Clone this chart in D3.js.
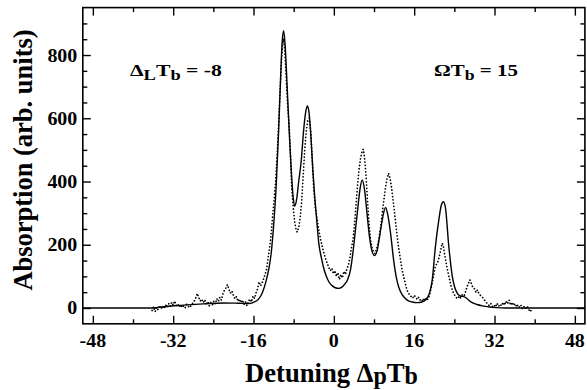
<!DOCTYPE html>
<html>
<head>
<meta charset="utf-8">
<script src="https://cdn.jsdelivr.net/npm/d3@7"></script>
<style>
	body { margin: 0; background: #fff; }
	svg text { font-family: "Liberation Serif", "Times New Roman", serif; font-weight: bold; fill: #000; }
</style>
</head>
<body>
<svg id="chart" width="587" height="390"></svg>
<script>
// ticks
const xMajor = [-48, -32, -16, 0, 16, 32, 48];
const xMinor = [-40, -24, -8, 8, 24, 40];
const yMajor = [0, 200, 400, 600, 800];
const yMinor = [50, 100, 150, 250, 300, 350, 450, 500, 550, 650, 700, 750, 850, 900];

// theory (solid line)
const theoryX = [-50, -36, -34, -30, -26, -22, -19, -17, -16, -15, -14.2, -13.5, -13, -12.5, -12, -11.5, -11, -10.6, -10.3, -10,
	-9.7, -9.3, -8.9, -8.5, -8.1, -7.8, -7.4, -7, -6.5, -6, -5.6, -5.3, -5, -4.6, -4.2, -3.8, -3.4, -3, -2.5, -2, -1.5, -1,
	-0.3, 0.3, 1, 1.6, 2.2, 2.8, 3.3, 3.8, 4.3, 4.8, 5.2, 5.65, 6.1, 6.6, 7.1, 7.6, 8.1, 8.6, 9.1, 9.6, 10.3, 10.8, 11.3,
	11.9, 12.4, 12.9, 13.6, 14.6, 15.6, 16.6, 17.5, 18.3, 19, 19.6, 20.2, 20.9, 21.4, 21.8, 22.2, 22.9, 23.6, 24.1, 24.6,
	25.2, 25.9, 26.5, 27.2, 28.5, 29.9, 31, 32.5, 34, 50];
const theoryY = [0, 0, 4, 9, 13, 16, 15, 14, 18, 28, 50, 85, 120, 170, 260, 380, 560, 730, 840, 877,
	830, 700, 560, 440, 350, 322, 345, 400, 465, 565, 620, 639, 625, 550, 440, 350, 275, 205, 160, 125, 100, 83,
	70, 64, 62, 66, 76, 92, 120, 175, 247, 320, 375, 405, 375, 300, 225, 180, 166, 180, 225, 275, 318, 290, 236,
	152, 100, 67, 42, 25, 19, 17, 19, 26, 45, 89, 190, 278, 325, 336, 320, 194, 99, 64, 46,
	38, 36, 30, 20, 11, 6, 3, 1, 0, 0];

// measurement (dots)
const measX = [-36.2, -35.9, -35.6, -35.3, -35, -34.7, -34.4, -34.1, -33.8, -33.5, -33.2, -32.9, -32.6, -32.3, -32, -31.7,
	-31.4, -31.1, -30.8, -30.5, -30.2, -29.9, -29.6, -29.3, -29, -28.7, -28.4, -28.1, -27.8, -27.5, -27.2, -26.9, -26.6,
	-26.3, -26, -25.7, -25.4, -25.1, -24.8, -24.5, -24.2, -23.9, -23.6, -23.3, -23, -22.7, -22.4, -22.1, -21.8, -21.5,
	-21.2, -20.9, -20.6, -20.3, -20, -19.7, -19.4, -19.1, -18.8, -18.5, -18.2, -17.9, -17.6, -17.3, -17, -16.7, -16.4,
	-16.1, -15.8, -15.5, -15.2, -14.9, -14.6, -14.3, -14, -13.7, -13.4, -13.1, -12.8, -12.5, -12.2, -11.9, -11.6, -11.3,
	-11, -10.7, -10.4, -10.2, -10, -9.8, -9.5, -9.2, -8.9, -8.6, -8.4, -8.1, -7.8, -7.5, -7.3, -7, -6.7, -6.4, -6.1,
	-5.8, -5.5, -5.2, -4.9, -4.6, -4.3, -4, -3.7, -3.3, -2.9, -2.6, -2.3, -2, -1.7, -1.3, -1, -0.7, -0.4, -0.1, 0.2,
	0.5, 0.8, 1.1, 1.4, 1.7, 2, 2.3, 2.6, 2.9, 3.2, 3.5, 3.8, 4.1, 4.4, 4.7, 5, 5.3, 5.6, 5.85, 6.1, 6.4, 6.7, 7, 7.3,
	7.6, 7.9, 8.2, 8.5, 8.8, 9.1, 9.4, 9.7, 10, 10.3, 10.6, 10.9, 11.2, 11.5, 11.8, 12.1, 12.4, 12.7, 13, 13.3, 13.6,
	13.9, 14.2, 14.5, 14.8, 15.1, 15.4, 15.7, 16, 16.3, 16.6, 16.9, 17.2, 17.5, 17.8, 18.1, 18.4, 18.7, 19, 19.3, 19.6,
	19.9, 20.2, 20.5, 20.8, 21.1, 21.4, 21.6, 21.8, 22.1, 22.4, 22.7, 23, 23.3, 23.6, 23.9, 24.2, 24.5, 24.8, 25.1,
	25.4, 25.7, 26, 26.3, 26.6, 26.9, 27.1, 27.4, 27.7, 28, 28.3, 28.6, 28.9, 29.2, 29.5, 29.8, 30.1, 30.4, 30.7, 31,
	31.3, 31.6, 31.9, 32.2, 32.5, 32.8, 33.1, 33.4, 33.7, 34, 34.3, 34.6, 34.9, 35.2, 35.5, 35.8, 36.1, 36.4, 36.7, 37,
	37.3, 37.6, 37.9, 38.2, 38.5, 38.8, 39.1, 39.3];
const measY = [-8, 4, -12, 2, -6, 8, -3, 6, -2, 10, 2, 14, 5, 18, 9, 22,
	8, 13, 3, 10, 1, 8, 2, 12, 5, 1, 9, 15, 22, 32, 46, 33, 22,
	28, 17, 26, 14, 20, 7, 16, 9, 22, 13, 30, 21, 34, 25, 45, 56, 63,
	74, 60, 47, 54, 40, 29, 36, 21, 28, 17, 25, 11, 20, 7, 22, 28, 19,
	38, 30, 48, 60, 83, 70, 78, 92, 106, 122, 158, 190, 232, 290, 342, 400, 480,
	580, 690, 790, 835, 852, 820, 730, 640, 580, 470, 380, 320, 272, 246, 240, 255, 285, 340, 420,
	500, 560, 592, 600, 560, 470, 375, 320, 278, 238, 214, 194, 175, 158, 141, 128, 118, 126, 108, 118,
	100, 112, 90, 106, 95, 116, 106, 124, 136, 158, 190, 215, 262, 322, 384, 436, 472, 495, 502, 478, 420, 340, 270, 215,
	190, 178, 172, 186, 204, 232, 265, 310, 345, 382, 410, 426, 410, 380, 340, 300, 258, 215, 180, 150, 120,
	99, 80, 60, 48, 42, 36, 31, 40, 35, 27, 34, 25, 21, 30, 23, 32, 27, 38, 57, 80,
	105, 131, 140, 150, 170, 192, 205, 196, 166, 140, 115, 94, 72, 57, 45, 37, 31, 36, 29,
	38, 45, 41, 55, 70, 82, 89, 77, 64, 61, 49, 57, 45, 40, 35, 30, 23, 17, 11, 7,
	14, 5, 10, 3, 15, 5, 12, 7, 18, 9, 22, 13, 25, 9, 18, 8, 14, 3, 10, 1,
	8, -3, 5, -1, 6, -4, -12, -7];

const theory = theoryX.map((d, i) => ({x: d, y: theoryY[i]}));
const meas = measX.map((d, i) => ({x: d, y: measY[i]}));

const margin = {top: 7.6, right: 2.1, bottom: 66.2, left: 82.8},
	width = 587 - margin.left - margin.right,
	height = 390 - margin.top - margin.bottom;

const svg = d3.select("#chart");
const g = svg.append("g").attr("transform", `translate(${margin.left},${margin.top})`);

const x = d3.scaleLinear().domain([-50, 50]).range([0, width]);
const y = d3.scaleLinear().domain([-50, 950]).range([height, 0]);

// ticks, pointing inwards on all four sides
function tickAxis(axis, vals, size, pos) {
	g.append("g")
		.attr("transform", pos)
		.call(axis.tickValues(vals).tickSizeInner(-size).tickSizeOuter(0).tickFormat(""))
		.call(a => a.select(".domain").remove())
		.selectAll("line").attr("stroke", "#000").attr("stroke-width", 1.4);
}
tickAxis(d3.axisBottom(x), xMajor, 8, `translate(0,${height})`);
tickAxis(d3.axisBottom(x), xMinor, 4.5, `translate(0,${height})`);
tickAxis(d3.axisTop(x), xMajor, 8, "translate(0,0)");
tickAxis(d3.axisTop(x), xMinor, 4.5, "translate(0,0)");
tickAxis(d3.axisLeft(y), yMajor, 8, "translate(0,0)");
tickAxis(d3.axisLeft(y), yMinor, 4.5, "translate(0,0)");
tickAxis(d3.axisRight(y), yMajor, 8, `translate(${width},0)`);
tickAxis(d3.axisRight(y), yMinor, 4.5, `translate(${width},0)`);

g.append("rect")
	.attr("width", width).attr("height", height)
	.attr("fill", "none").attr("stroke", "#000").attr("stroke-width", 1.6);

// tick labels
g.selectAll(".xl").data(xMajor).join("text")
	.attr("text-anchor", "middle")
	.attr("transform", d => `translate(${x(d)},${height + 23}) scale(1.05,1)`)
	.style("font-size", "19px")
	.text(d => d);
g.selectAll(".yl").data(yMajor).join("text")
	.attr("text-anchor", "end")
	.attr("transform", d => `translate(-5.5,${y(d) + 6.5}) scale(1.05,1)`)
	.style("font-size", "19px")
	.text(d => d);

// curves
g.append("path")
	.datum(theory)
	.attr("d", d3.line().x(d => x(d.x)).y(d => y(d.y)).curve(d3.curveMonotoneX))
	.attr("fill", "none").attr("stroke", "#000").attr("stroke-width", 1.4);
g.append("path")
	.datum(meas)
	.attr("d", d3.line().x(d => x(d.x)).y(d => y(d.y)))
	.attr("fill", "none").attr("stroke", "#000").attr("stroke-width", 1.7)
	.attr("stroke-linecap", "round").attr("stroke-dasharray", "0.1,3.2");

// text with subscripts: [string, isSub]; stretched horizontally to a given width
function richText(parent, parts, size, subSize, subShift, tx, ty, targetW) {
	const t = parent.append("text")
		.style("font-size", size + "px");
	let down = false;
	parts.forEach(p => {
		const s = t.append("tspan").text(p[0]);
		if (p[1]) {
			s.attr("dy", down ? 0 : subShift).style("font-size", (size * subSize) + "px");
			down = true;
		} else {
			s.attr("dy", down ? -subShift : 0);
			down = false;
		}
	});
	const w = t.node().getBBox().width;
	const k = targetW ? targetW / w : 1;
	t.attr("transform", `translate(${tx},${ty}) scale(${k},1)`);
	return t;
}
richText(svg, [["\u0394"], ["L", 1], ["T"], ["b", 1], [" = -8"]], 17, 0.85, 4, 130, 76, 92);
richText(svg, [["\u03A9T"], ["b", 1], [" = 15"]], 17, 0.85, 4, 434, 76, 84);

// axis titles
richText(svg, [["Detuning \u0394"], ["p", 1], ["T"], ["b", 1]], 27, 0.9, 2, 245, 382, 173);
svg.append("text")
	.attr("text-anchor", "middle")
	.attr("transform", "translate(31.5,160) scale(1.05,1) rotate(-90)")
	.style("font-size", "26.5px")
	.text("Absorption (arb. units)");
</script>
</body>
</html>
